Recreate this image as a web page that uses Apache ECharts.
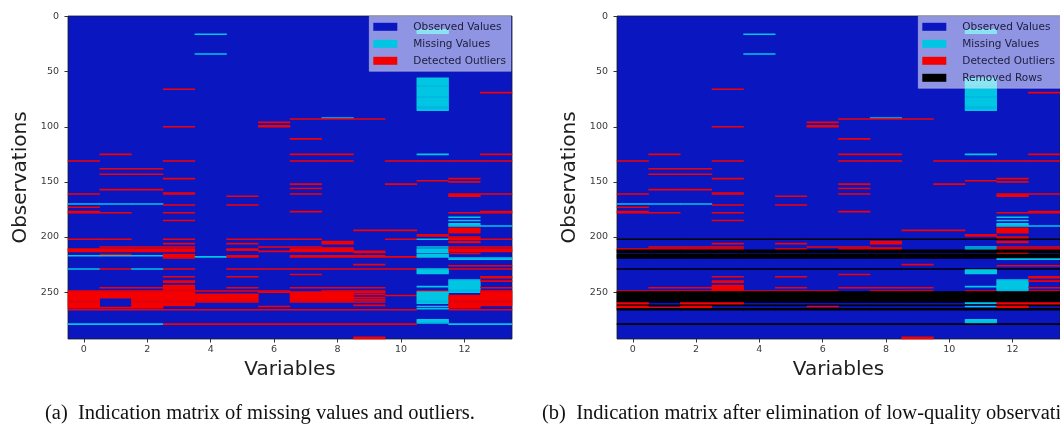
<!DOCTYPE html>
<html>
<head>
<meta charset="utf-8">
<script src="https://cdn.jsdelivr.net/npm/echarts@6/dist/echarts.min.js"></script>
<style>
  html, body { margin: 0; padding: 0; background: #ffffff; }
  #chart { width: 1060px; height: 427px; }
</style>
</head>
<body>
<div id="chart"></div>
<script>
// Indication matrices: observations (rows) x variables (columns).
const rowCount = 293;
const variables = ['0','1','2','3','4','5','6','7','8','9','10','11','12','13'];
const observationTicks = [0, 50, 100, 150, 200, 250];
const variableTicks = [0, 2, 4, 6, 8, 10, 12];

// Missing values as [variable, firstRow, lastRow]
const missingRuns = [
  [4,16,16],[4,34,34],
  [11,12,15],[11,56,85],
  [8,92,92],
  [11,125,125],
  [0,170,170],[1,170,170],[2,170,170],
  [12,182,182],[12,185,185],[12,188,190],[13,190,190],
  [11,202,202],[11,209,209],[11,211,214],[11,216,218],
  [0,217,217],[1,217,217],[2,217,217],[4,218,218],
  [12,219,220],[13,219,220],
  [0,229,229],[2,229,229],[11,229,233],
  [12,239,250],[11,245,245],
  [11,250,260],[11,263,263],[11,265,265],
  [11,275,278],
  [0,279,279],[1,279,279],[2,279,279],[12,279,279],[13,279,279]
];

// Detected outliers as [variable, firstRow, lastRow]
const outlierRuns = [
  [3,66,66],[13,69,69],
  [7,93,93],[8,93,93],[9,93,93],
  [6,96,96],[6,99,100],[3,100,100],
  [7,111,111],
  [1,125,125],[7,125,125],[8,125,125],[13,125,125],
  [0,131,131],[3,131,131],[7,131,131],[8,131,131],[10,131,131],[11,131,131],[12,131,131],[13,131,131],
  [1,138,138],[2,138,138],[1,143,143],[2,143,143],
  [3,147,147],[12,147,147],[11,149,149],[12,150,150],
  [7,152,152],[10,152,152],
  [7,156,156],[1,157,157],[2,157,157],
  [3,160,161],[0,161,161],[7,161,161],[13,161,161],[12,161,163],[5,163,163],
  [3,171,171],[5,171,171],[0,173,173],
  [0,177,178],[1,178,178],[3,178,178],[7,177,177],[12,178,178],[13,177,178],
  [3,185,185],
  [12,192,196],[9,194,194],[10,194,194],
  [11,198,199],[12,200,201],
  [0,202,202],[1,202,202],[3,202,202],[5,202,202],[6,202,202],[7,202,202],[10,202,202],[12,202,202],[13,202,202],
  [8,204,206],[12,204,205],[3,206,206],[5,206,206],
  [1,209,209],[2,209,209],[3,209,209],[6,209,209],[7,209,209],[12,209,209],[13,209,209],[8,210,210],
  [0,211,213],[1,211,213],[2,211,213],[3,211,213],[5,211,212],[7,211,213],[8,211,213],[12,211,213],[13,211,213],
  [6,213,213],[9,213,214],
  [12,215,215],[1,216,216],
  [3,216,219],[5,217,218],[7,217,218],[8,217,218],[9,217,218],[10,218,218],
  [9,225,225],[12,226,226],[13,226,226],
  [1,229,229],[3,229,229],[5,229,229],[6,229,229],[7,229,229],[8,229,229],[9,229,229],[10,229,229],[12,229,229],[13,229,229],
  [7,234,234],
  [3,236,236],[5,236,236],[13,236,237],
  [3,240,241],[13,240,240],
  [1,246,246],[2,246,246],[3,244,249],[5,246,246],[7,246,246],[8,246,246],[9,246,246],[13,246,246],
  [0,249,249],[1,249,249],[2,249,249],[4,249,249],[5,249,249],[6,249,249],[8,249,249],[9,249,249],[11,249,249],
  [13,249,262],
  [0,250,264],[1,250,255],[1,264,264],[2,250,264],[3,250,262],[4,252,259],[5,252,259],
  [6,250,250],[6,263,263],[7,250,259],[8,250,259],
  [9,250,250],[9,252,252],[9,255,255],[9,257,257],[9,259,259],[9,262,262],
  [10,253,253],[12,253,264],
  [0,266,266],[1,266,266],[2,266,266],[3,266,266],[4,266,266],[5,266,266],[6,266,266],
  [7,266,266],[8,266,266],[9,266,266],[10,266,266],[12,266,266],[13,266,266],
  [3,279,279],[4,279,279],[5,279,279],[6,279,279],[7,279,279],[8,279,279],[9,279,279],[10,279,279],
  [9,291,292]
];

// Low-quality observations eliminated in panel (b): [firstRow, lastRow]
const removedRowRuns = [
  [202,202],[212,214],[216,219],[229,229],[250,259],[262,262],[265,266],[279,279]
];

const stateNames = ['Observed Values', 'Missing Values', 'Detected Outliers', 'Removed Rows'];
const stateColors = ['#0a16c0', '#00c6e4', '#f50000', '#000000'];

const rowLabels = [];
for (let r = 0; r < rowCount; r++) rowLabels.push(String(r));

function buildMatrix(withRemoved) {
  const m = [];
  for (let r = 0; r < rowCount; r++) m.push(new Array(variables.length).fill(0));
  missingRuns.forEach(([c, a, b]) => { for (let r = a; r <= b; r++) m[r][c] = 1; });
  outlierRuns.forEach(([c, a, b]) => { for (let r = a; r <= b; r++) m[r][c] = 2; });
  if (withRemoved) {
    removedRowRuns.forEach(([a, b]) => {
      for (let r = a; r <= b; r++) m[r].fill(3);
    });
  }
  // observed cells are the grid background; only flagged cells become heatmap items
  const items = [];
  for (let r = 0; r < rowCount; r++) {
    for (let c = 0; c < variables.length; c++) {
      if (m[r][c] !== 0) items.push([c, r, m[r][c]]);
    }
  }
  return items;
}

const panels = [
  { left: 68, legendLeft: 369, states: 3, data: buildMatrix(false),
    caption: '(a)\u2002Indication matrix of missing values and outliers.', captionX: 45 },
  { left: 617, legendLeft: 918, states: 4, data: buildMatrix(true),
    caption: '(b)\u2002Indication matrix after elimination of low-quality observations.', captionX: 542 }
];

const tickFont = { fontFamily: 'DejaVu Sans', fontSize: 9.5, color: '#3a3a3a' };
const titleFont = { fontFamily: 'DejaVu Sans', fontSize: 20, color: '#1e1e1e' };

const option = {
  animation: false,
  backgroundColor: '#ffffff',
  grid: panels.map(p => ({
    left: p.left, top: 16, width: 444, height: 323,
    show: true, backgroundColor: stateColors[0],
    borderColor: '#1a1a1a', borderWidth: 0.8
  })),
  xAxis: panels.map((p, i) => ({
    type: 'category', gridIndex: i, data: variables,
    name: 'Variables', nameLocation: 'middle', nameGap: 21, nameTextStyle: titleFont,
    axisLine: { show: false },
    axisTick: { show: true, alignWithLabel: true, length: 3.5,
      interval: (idx) => variableTicks.includes(idx), lineStyle: { color: '#333' } },
    axisLabel: Object.assign({ margin: 6, interval: (idx) => variableTicks.includes(idx) }, tickFont),
    splitLine: { show: false }, splitArea: { show: false }
  })),
  yAxis: panels.map((p, i) => ({
    type: 'category', gridIndex: i, data: rowLabels, inverse: true,
    name: 'Observations', nameLocation: 'middle', nameGap: 37, nameRotate: 90, nameTextStyle: titleFont,
    axisLine: { show: false },
    axisTick: { show: true, alignWithLabel: true, length: 3.5,
      interval: (idx) => observationTicks.includes(idx), lineStyle: { color: '#333' } },
    axisLabel: Object.assign({ margin: 9, interval: (idx) => observationTicks.includes(idx) }, tickFont),
    splitLine: { show: false }, splitArea: { show: false }
  })),
  visualMap: panels.map((p, i) => ({
    type: 'piecewise', seriesIndex: i, dimension: 2,
    pieces: stateNames.slice(0, p.states).map((name, k) => ({ value: k, label: name, color: stateColors[k] })),
    inverse: true, orient: 'vertical', align: 'left',
    left: p.legendLeft, top: 16,
    itemWidth: 24, itemHeight: 8, itemGap: 6, textGap: 16, itemSymbol: 'rect',
    padding: [5, 5, 5, 4],
    backgroundColor: 'rgba(255,255,255,0.55)',
    borderColor: 'rgba(210,210,230,0.7)', borderWidth: 0.6,
    selectedMode: false, hoverLink: false,
    textStyle: { fontFamily: 'DejaVu Sans', fontSize: 10.5, color: '#1c1c3a' }
  })),
  series: panels.map((p, i) => ({
    type: 'heatmap', xAxisIndex: i, yAxisIndex: i,
    data: p.data, progressive: 0,
    itemStyle: { borderWidth: 0 },
    emphasis: { disabled: true }
  })),
  graphic: panels.map(p => ({
    type: 'text', left: p.captionX, top: 403,
    style: { text: p.caption, font: '20.5px "Liberation Serif", "Times New Roman", serif', fill: '#111111' }
  }))
};

const chart = echarts.init(document.getElementById('chart'), null, { renderer: 'canvas' });
chart.setOption(option);
</script>
</body>
</html>
